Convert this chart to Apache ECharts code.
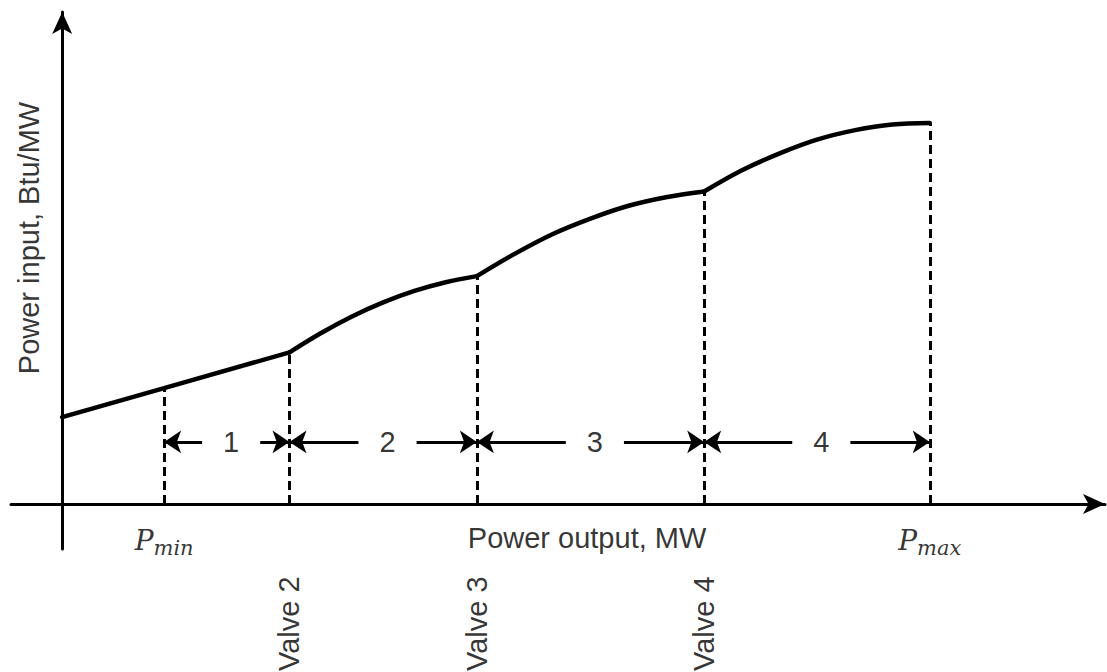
<!DOCTYPE html>
<html><head><meta charset="utf-8">
<script src="https://cdn.jsdelivr.net/npm/echarts@6/dist/echarts.min.js"></script>
<style>html,body{margin:0;padding:0;background:#fff}#c{width:1107px;height:672px}</style>
</head><body><div id="c"></div>
<script>
// ---- data (MW on x, relative power input on y) ----
const valveNames = ['P_min', 'Valve 2', 'Valve 3', 'Valve 4', 'P_max'];
const valveX = [11.75, 26.2, 47.8, 74.0, 100];
const valveY = [30.4, 39.8, 59.8, 82.0, 100];
const sectionLabels = ['1', '2', '3', '4'];
const curve1 = [[0, 22.8], [11.75, 30.4], [26.2, 39.8]];
const curve2 = [[26.2, 39.8], [29.8, 44.8], [33.4, 49.2], [37.0, 52.9], [40.6, 55.9], [44.2, 58.2], [47.8, 59.8]];
const curve3 = [[47.8, 59.8], [52.2, 65.7], [56.5, 70.8], [60.9, 74.9], [65.2, 78.2], [69.6, 80.5], [74.0, 82.0]];
const curve4 = [[74.0, 82.0], [78.3, 87.5], [82.7, 92.0], [87.0, 95.6], [91.4, 98.1], [95.7, 99.6], [100, 100]];
const arrowLevel = 16.3;
const xAxisTitle = 'Power output, MW';
const yAxisTitle = 'Power input, Btu/MW';

// ---- build ----
const FONT = 'Liberation Sans, Arial, sans-serif';
const gapHalf = 3.35, labelShift = 0.5;
const arrowData = [], sectionData = [];
for (let i = 0; i < sectionLabels.length; i++) {
  const c = (valveX[i] + valveX[i + 1]) / 2 + labelShift;
  arrowData.push({coords: [[c - gapHalf, arrowLevel], [valveX[i], arrowLevel]]});
  arrowData.push({coords: [[c + gapHalf, arrowLevel], [valveX[i + 1], arrowLevel]]});
  sectionData.push([c, arrowLevel, sectionLabels[i]]);
}
const dashData = valveX.map((x, i) => ({coords: [[x, 0], [x, valveY[i]]]}));
const curveSeries = [curve1, curve2, curve3, curve4].map((d, i) => ({
  type: 'line', data: d, smooth: i === 0 ? false : 0.35, showSymbol: false, z: 5,
  lineStyle: {color: '#000', width: 4.5, cap: 'round'}
}));
const valveLabelData = valveNames.slice(1, 4).map((n, i) => [valveX[i + 1], -31.4, n]);
const pLabelData = [[valveX[0], -9.6, 'min'], [valveX[4], -9.6, 'max']];

const axisCommon = {
  type: 'value',
  axisLine: {onZero: true, lineStyle: {color: '#000', width: 3}, symbol: ['none', 'arrow'], symbolSize: [15, 22]},
  axisTick: {show: false}, axisLabel: {show: false}, splitLine: {show: false}
};
const chart = echarts.init(document.getElementById('c'), null, {renderer: 'svg'});
chart.setOption({
  animation: false,
  backgroundColor: '#fff',
  grid: {left: 11, right: 2, top: 12, bottom: 123},
  xAxis: Object.assign({min: -5.9, max: 120.2}, axisCommon),
  yAxis: Object.assign({min: -11.8, max: 129.1}, axisCommon),
  series: [
    ...curveSeries,
    {type: 'lines', coordinateSystem: 'cartesian2d', data: dashData, symbol: 'none',
     lineStyle: {color: '#000', width: 3, type: [9, 5], opacity: 1}, z: 3},
    {type: 'lines', coordinateSystem: 'cartesian2d', data: arrowData, symbol: ['none', 'arrow'], symbolSize: [14, 17],
     lineStyle: {color: '#000', width: 3, opacity: 1}, z: 4},
    {type: 'scatter', data: sectionData, symbolSize: 0, clip: false, silent: true,
     label: {show: true, position: 'inside', formatter: p => p.value[2], fontSize: 29, color: '#000', fontFamily: FONT}},
    {type: 'scatter', data: valveLabelData, symbolSize: 0, clip: false, silent: true,
     label: {show: true, position: 'inside', rotate: 90, formatter: p => p.value[2], fontSize: 29, color: '#000', fontFamily: FONT}},
    {type: 'scatter', data: pLabelData, symbolSize: 0, clip: false, silent: true,
     label: {show: true, position: 'inside', formatter: p => '{p|P}{s|' + p.value[2] + '}',
       rich: {
         p: {fontSize: 28, fontStyle: 'italic', fontFamily: 'DejaVu Serif', color: '#000'},
         s: {fontSize: 21, fontStyle: 'italic', fontFamily: 'DejaVu Serif', color: '#000', padding: [14, 0, 0, 0]}
       }}},
    {type: 'scatter', data: [[60.5, -9.0, xAxisTitle]], symbolSize: 0, clip: false, silent: true,
     label: {show: true, position: 'inside', formatter: p => p.value[2], fontSize: 29, color: '#000', fontFamily: FONT}},
    {type: 'scatter', data: [[-3.8, 69.8, yAxisTitle]], symbolSize: 0, clip: false, silent: true,
     label: {show: true, position: 'inside', rotate: 90, formatter: p => p.value[2], fontSize: 29, color: '#000', fontFamily: FONT}}
  ]
});
</script></body></html>
